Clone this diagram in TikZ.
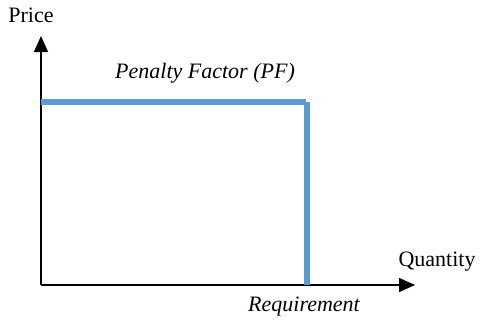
\documentclass[tikz,border=0pt]{standalone}
\usepackage{fontspec}
\setmainfont{Liberation Serif}
\usetikzlibrary{arrows.meta}
\begin{document}
\begin{tikzpicture}[x=1pt,y=-1pt,
  axis/.style={line width=1.5pt,-{Triangle[length=16pt,width=14pt]}},
  curve/.style={line width=6pt,draw={rgb,255:red,91;green,155;blue,213}},
  lbl/.style={font=\fontsize{22}{26}\selectfont,inner sep=0pt}]
\useasboundingbox (0,0) rectangle (480,322);
\coordinate (O) at (41,285);
\coordinate (ytip) at (41,36);
\coordinate (xtip) at (415,285);
\draw[axis] (O) -- (ytip);
\draw[axis] (O) -- (xtip);
\coordinate (h0) at (41,102);
\coordinate (h1) at (306,102);
\coordinate (v0) at (307,102);
\coordinate (v1) at (307,285);
\draw[curve] (h0) -- (h1);
\draw[curve] (v0) -- (v1);
\node[lbl] (price) at (31,15) {Price};
\node[lbl] (qty) at (437,262) {Quantity};
\node[lbl,font=\fontsize{22}{26}\selectfont\itshape] (pf) at (205,73) {Penalty Factor (PF)};
\node[lbl,font=\fontsize{22}{26}\selectfont\itshape] (req) at (304,307) {Requirement};
\end{tikzpicture}
\end{document}
